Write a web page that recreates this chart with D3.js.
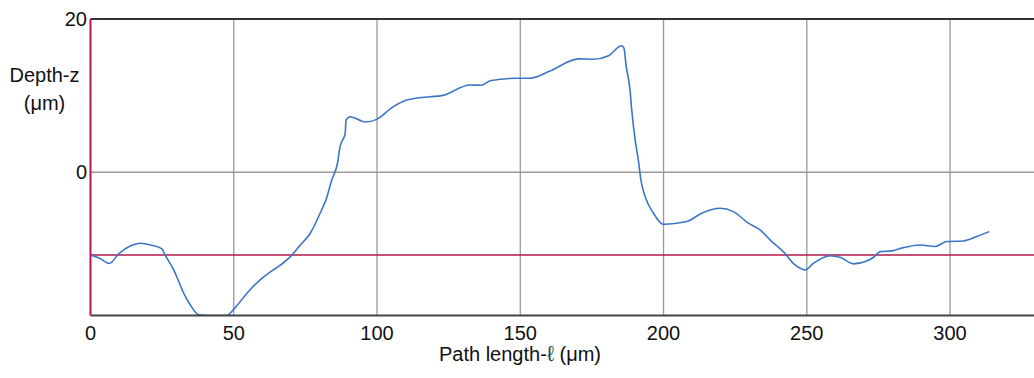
<!DOCTYPE html>
<html>
<head>
<meta charset="utf-8">
<script src="https://cdn.jsdelivr.net/npm/d3@7/dist/d3.min.js"></script>
<style>
  html, body { margin: 0; padding: 0; background: #fff; }
  svg { display: block; }
  text { font-family: "Liberation Sans", Arial, sans-serif; fill: #111; }
</style>
</head>
<body>
<svg id="chart" width="1034" height="378"></svg>
<script>
// Surface profile: path length ℓ (µm) vs depth z (µm)
const pathLength = [
  0, 3, 6.5, 10, 14, 17.3, 22, 24.9, 26, 29, 32.8, 34.8, 37.7, 41, 44, 47.6,
  50.4, 54.6, 59.2, 62.8, 66, 69.7, 73, 76.7, 80.7, 82.2, 84.2, 86.2, 87.1,
  88.9, 89.2, 90.6, 95.9, 99.9, 105.7, 110.4, 118.5, 122.6, 132.5, 136.6,
  139.5, 148.8, 153.4, 160.4, 170.3, 175.5, 180.8, 185.4, 186.2, 186.9, 188.3,
  188.9, 190.1, 191.2, 192.1, 193.6, 196.5, 199.9, 208.1, 213.3, 219.7, 224.4,
  229.6, 233.7, 237.8, 241.8, 245.9, 249.4, 252.3, 258.1, 261.6, 266.3, 270.9,
  273.3, 275.6, 279.7, 283.7, 289.5, 294.8, 298.8, 304.6, 309.3, 313.7
];
const depth = [
  -10.8, -11.2, -11.9, -10.6, -9.6, -9.26, -9.6, -10.0, -10.8, -12.7, -16.0, -17.3, -18.6, -18.7, -18.7, -18.66,
  -17.7, -15.8, -14.05, -13.0, -12.2, -11.05, -9.6, -7.96, -4.9, -3.6, -1.0, 1.17, 3.34,
  5.09, 6.82, 7.25, 6.56, 6.9, 8.56, 9.43, 9.86, 10.0, 11.39, 11.35,
  11.95, 12.26, 12.26, 13.2, 14.8, 14.74, 15.2, 16.5, 16.2, 14.0, 10.74,
  8.13, 4.2, 1.6, -1.0, -3.2, -5.35, -6.8, -6.44, -5.35, -4.7, -5.14,
  -6.65, -7.53, -9.05, -10.36, -12.1, -12.75, -11.9, -10.9, -11.1, -11.96, -11.6,
  -11.1, -10.36, -10.27, -9.84, -9.49, -9.7, -9.05, -8.97, -8.4, -7.75
];
const xTicks = [0, 50, 100, 150, 200, 250, 300];
const yTicks = [0, 20];
const meanDepth = -10.8;

const svg = d3.select("#chart");
const plotLeft = 90.5, plotRight = 1034, plotTop = 19, plotBottom = 315.5;

const x = d3.scaleLinear().domain([0, 329.3]).range([plotLeft, plotRight]);
const y = d3.scaleLinear().domain([-18.7, 20]).range([plotBottom, plotTop]);

// vertical grid
svg.append("g")
  .selectAll("line")
  .data(xTicks.filter(d => d > 0))
  .join("line")
  .attr("x1", d => x(d)).attr("x2", d => x(d))
  .attr("y1", plotTop).attr("y2", plotBottom)
  .attr("stroke", "#9a9a9a").attr("stroke-width", 1.3);

// horizontal grid at zero
svg.append("line")
  .attr("x1", plotLeft).attr("x2", plotRight)
  .attr("y1", y(0)).attr("y2", y(0))
  .attr("stroke", "#9a9a9a").attr("stroke-width", 1.3);

// top frame line
svg.append("line")
  .attr("x1", plotLeft).attr("x2", plotRight)
  .attr("y1", y(20)).attr("y2", y(20))
  .attr("stroke", "#333").attr("stroke-width", 2);

// mean line
svg.append("line")
  .attr("x1", plotLeft).attr("x2", plotRight)
  .attr("y1", y(meanDepth)).attr("y2", y(meanDepth))
  .attr("stroke", "#b3174d").attr("stroke-width", 1.6);

// profile
svg.append("defs").append("clipPath").attr("id", "plotClip")
  .append("rect").attr("x", plotLeft).attr("y", plotTop)
  .attr("width", plotRight - plotLeft).attr("height", plotBottom - plotTop);

const line = d3.line()
  .x((d, i) => x(pathLength[i]))
  .y(d => y(d))
  .curve(d3.curveMonotoneX);

svg.append("path")
  .datum(depth)
  .attr("clip-path", "url(#plotClip)")
  .attr("d", line)
  .attr("fill", "none")
  .attr("stroke", "#3a76c6")
  .attr("stroke-width", 1.6);

// bottom axis line
svg.append("line")
  .attr("x1", plotLeft).attr("x2", plotRight)
  .attr("y1", plotBottom).attr("y2", plotBottom)
  .attr("stroke", "#444").attr("stroke-width", 2);

// left axis line
svg.append("line")
  .attr("x1", plotLeft).attr("x2", plotLeft)
  .attr("y1", plotTop).attr("y2", plotBottom)
  .attr("stroke", "#b3174d").attr("stroke-width", 2);

// x tick labels
svg.append("g")
  .selectAll("text")
  .data(xTicks)
  .join("text")
  .attr("x", d => x(d))
  .attr("y", 340)
  .attr("text-anchor", "middle")
  .attr("font-size", 20)
  .text(d => d);

// y tick labels
svg.append("g")
  .selectAll("text")
  .data(yTicks)
  .join("text")
  .attr("x", 87)
  .attr("y", d => y(d))
  .attr("dy", "0.36em")
  .attr("text-anchor", "end")
  .attr("font-size", 20)
  .text(d => d);

// axis titles
const yTitle = svg.append("text")
  .attr("text-anchor", "middle")
  .attr("font-size", 20);
yTitle.append("tspan").attr("x", 44.5).attr("y", 81.5).text("Depth-z");
yTitle.append("tspan").attr("x", 44.5).attr("y", 110).text("(\u03BCm)");

const xTitle = svg.append("text")
  .attr("x", 520).attr("y", 361)
  .attr("text-anchor", "middle")
  .attr("font-size", 20);
xTitle.append("tspan").text("Path length-");
xTitle.append("tspan").style("fill", "#1f5050").attr("font-size", 22).text("\u2113");
xTitle.append("tspan").text(" (\u03BCm)");
</script>
</body>
</html>
